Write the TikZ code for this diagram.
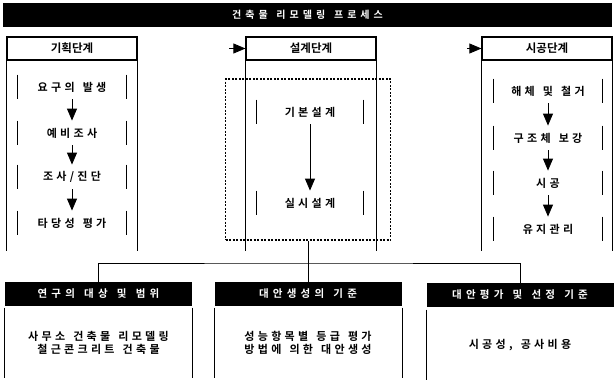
\documentclass[tikz,border=0pt]{standalone}
\usepackage{fontspec}
\setmainfont{Noto Sans CJK KR}[BoldFont=Noto Sans CJK KR Bold]
\newfontfamily\krspaced{Noto Sans CJK KR}[BoldFont=Noto Sans CJK KR Bold, LetterSpace=30, WordSpace=1.4]
\newfontfamily\krwide{Noto Sans CJK KR}[BoldFont=Noto Sans CJK KR Bold, LetterSpace=40, WordSpace=1.4]
\usetikzlibrary{arrows.meta}

\begin{document}
\begin{tikzpicture}[
        x=1pt, y=-1pt,
        every path/.style={>={Triangle[length=12pt,width=10pt]}},
        inner sep=0pt,
        line width=0.8pt,
        font=\fontsize{11.5}{13}\selectfont\bfseries,
        phase/.style={draw, line width=1.2pt, minimum width=130pt, minimum height=23pt},
        bar/.style={fill=black, text=white, minimum width=187pt, minimum height=24pt,
            font=\fontsize{10.5}{12}\selectfont\krwide\bfseries},
        side/.style={append after command={
            (\tikzlastnode.north west) edge (\tikzlastnode.south west)
            (\tikzlastnode.north east) edge (\tikzlastnode.south east)}},
        item/.style={side, minimum width=108pt, minimum height=24pt,
            font=\fontsize{11}{13}\selectfont\krspaced\bfseries},
        body/.style={side, minimum width=187pt, minimum height=70pt, align=center,
            font=\fontsize{11}{13}\selectfont\krspaced\bfseries}
        ]

        \useasboundingbox (0,0) rectangle (614,380);

        % title
        \node[bar, minimum width=609pt, font=\fontsize{10}{12}\selectfont\krwide\bfseries] (title) at (307.5,15) {건축물 리모델링 프로세스};

        % phases
        \node[phase] (p1) at ( 72,48.5) {기획단계};
        \node[phase] (p2) at (311,48.5) {설계단계};
        \node[phase] (p3) at (547,48.5) {시공단계};

        \coordinate (colend) at (0,251);
        \coordinate (in2) at (229,48.5);
        \coordinate (in3) at (467,48.5);

        \draw (p1.south west) -- (p1.south west |- colend);
        \draw (p1.south east) -- (p1.south east |- colend);
        \draw (p2.south west) -- (p2.south west |- colend);
        \draw (p2.south east) -- (p2.south east |- colend);
        \draw (p3.south west) -- (p3.south west |- colend);
        \draw (p3.south east) -- (p3.south east |- colend);

        \draw[-{Triangle[length=12pt,width=10pt]}] (in2) -- (p2.west);
        \draw[-{Triangle[length=12pt,width=10pt]}] (in3) -- (p3.west);

        % planning
        \node[item] (a1) at (72, 87) {요구의 발생};
        \node[item] (a2) at (72,133) {예비조사};
        \node[item] (a3) at (72,177) {조사/진단};
        \node[item] (a4) at (72,223) {타당성 평가};

        \draw[->] (a1) -- (a2);
        \draw[->] (a2) -- (a3);
        \draw[->] (a3) -- (a4);

        % design
        \node[draw, line width=1.6pt, dash pattern=on 2pt off 1.5pt,
            minimum width=165pt, minimum height=161pt] (dbox) at (308,159.5) {};
        \node[item, minimum width=106pt] (d1) at (310,112) {기본설계};
        \node[item, minimum width=106pt] (d2) at (310,203) {실시설계};

        \draw[->] (d1) -- (d2);

        % construction
        \node[item] (c1) at (548, 91) {해체 및 철거};
        \node[item] (c2) at (548,138) {구조체 보강};
        \node[item] (c3) at (548,183) {시공};
        \node[item] (c4) at (548,229) {유지관리};

        \draw[->] (c1) -- (c2);
        \draw[->] (c2) -- (c3);
        \draw[->] (c3) -- (c4);

        % bottom
        \node[bar] (h1) at (98.5,294) {연구의 대상 및 범위};
        \node[bar] (h2) at (308,294) {대안생성의 기준};
        \node[bar] (h3) at (520,295) {대안평가 및 선정 기준};

        \node[body] (b1) at (98.5,343) {사무소 건축물 리모델링\\철근콘크리트 건축물};
        \node[body] (b2) at (308,343) {성능항목별 등급 평가\\방법에 의한 대안생성};
        \node[body] (b3) at (520,345) {시공성, 공사비용};

        % edges
        \coordinate (bus) at (308,263);
        \draw[line width=1pt] (h1.north) |- (bus) -| (h3.north);
        \draw[line width=1pt] (dbox.south) -- (h2.north);

\end{tikzpicture}
\end{document}
